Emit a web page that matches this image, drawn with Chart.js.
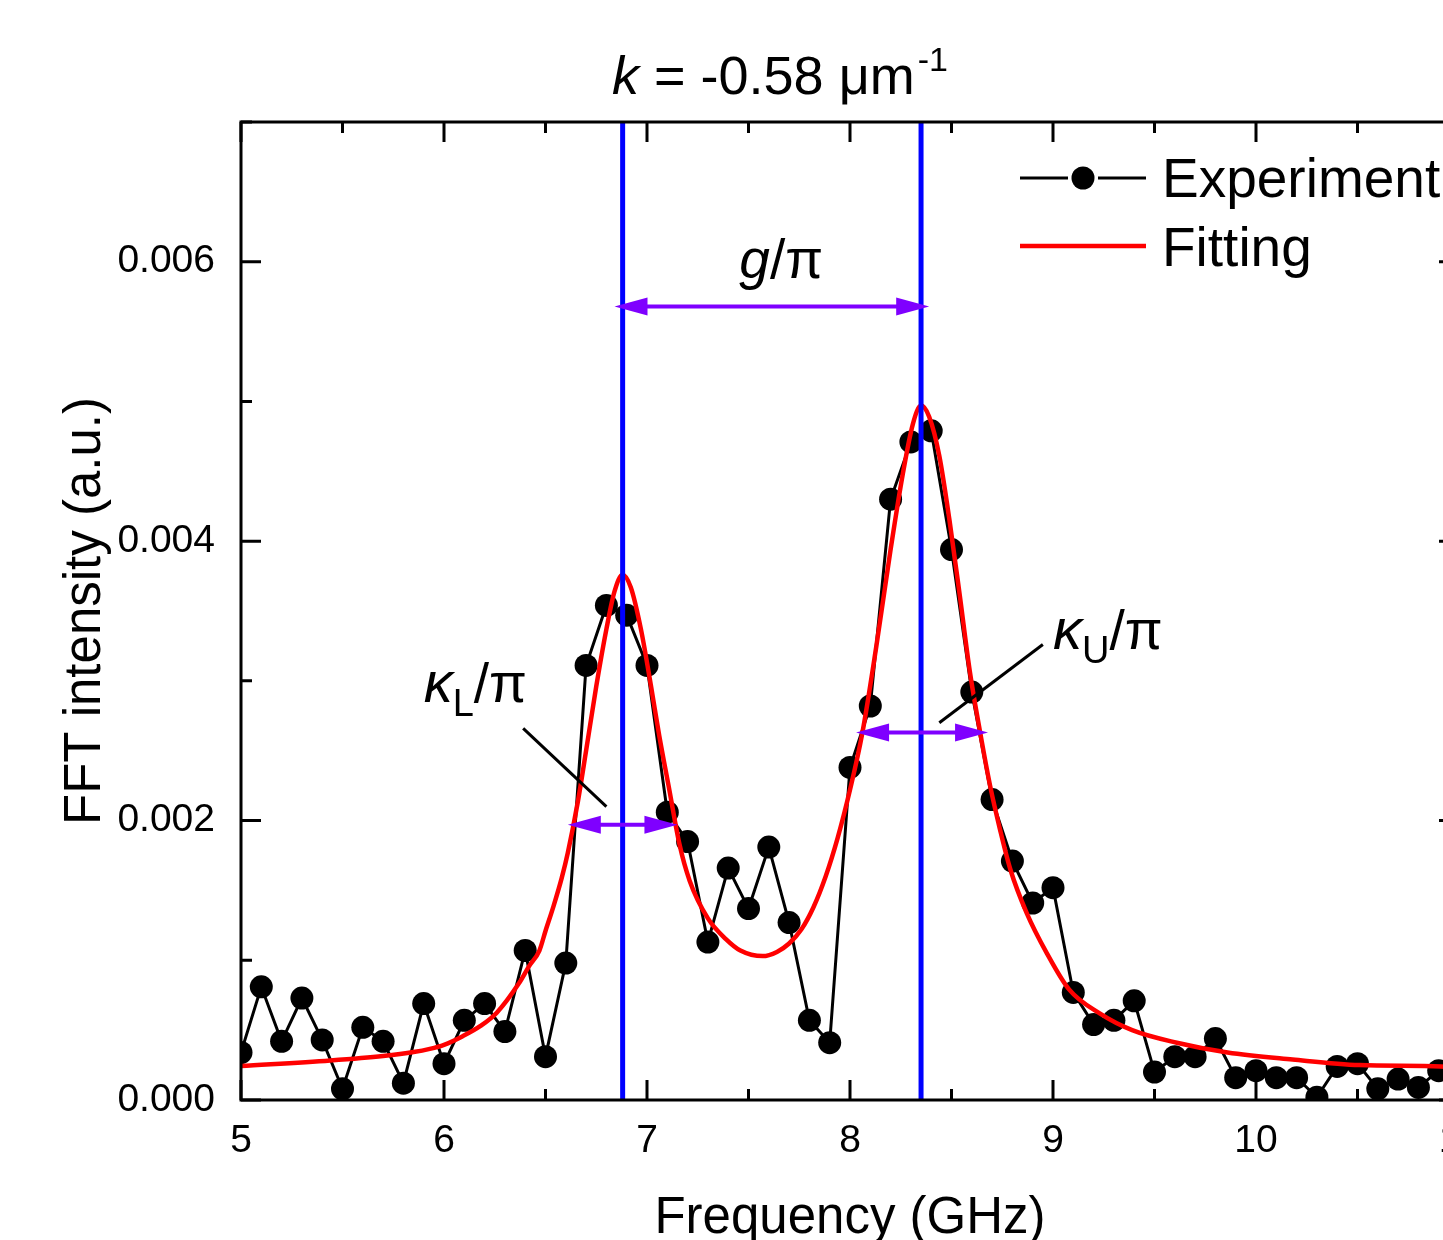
<!DOCTYPE html>
<html>
<head>
<meta charset="utf-8">
<script src="https://cdn.jsdelivr.net/npm/chart.js@4.4.0/dist/chart.umd.min.js"></script>
<style>
  html, body { margin: 0; padding: 0; background: #fff; overflow: hidden; }
  canvas { display: block; }
</style>
</head>
<body>
<canvas id="fftChart" width="1500" height="1240"></canvas>
<script>
const FONT = '"Liberation Sans", Arial, sans-serif';

// measured FFT spectrum, 0.1 GHz steps
const freqGHz = [
  5.0, 5.1, 5.2, 5.3, 5.4, 5.5, 5.6, 5.7, 5.8, 5.9,
  6.0, 6.1, 6.2, 6.3, 6.4, 6.5, 6.6, 6.7, 6.8, 6.9,
  7.0, 7.1, 7.2, 7.3, 7.4, 7.5, 7.6, 7.7, 7.8, 7.9,
  8.0, 8.1, 8.2, 8.3, 8.4, 8.5, 8.6, 8.7, 8.8, 8.9,
  9.0, 9.1, 9.2, 9.3, 9.4, 9.5, 9.6, 9.7, 9.8, 9.9,
  10.0, 10.1, 10.2, 10.3, 10.4, 10.5, 10.6, 10.7, 10.8, 10.9
];
const fftIntensity = [
  0.00034, 0.00081, 0.00042, 0.00073, 0.00043, 0.00008, 0.00052, 0.00042, 0.00012, 0.00069,
  0.00026, 0.00057, 0.00069, 0.00049, 0.00107, 0.00031, 0.00098, 0.00311, 0.00354, 0.00347,
  0.00311, 0.00206, 0.00185, 0.00113, 0.00166, 0.00137, 0.00181, 0.00127, 0.00057, 0.00041,
  0.00238, 0.00282, 0.00430, 0.00471, 0.00479, 0.00394, 0.00292, 0.00215, 0.00171, 0.00141,
  0.00152, 0.00077, 0.00054, 0.00057, 0.00071, 0.00020, 0.00031, 0.00031, 0.00044, 0.00016,
  0.00021, 0.00016, 0.00016, 0.00002, 0.00024, 0.00026, 0.00008, 0.00015, 0.00009, 0.00021
];

// two-peak fit curve
const fitFreqGHz = [
  5.0, 5.44, 5.70, 5.85, 5.93, 6.00, 6.09, 6.18, 6.26, 6.37,
  6.42, 6.47, 6.50, 6.54, 6.58, 6.61, 6.66, 6.70, 6.75, 6.80,
  6.84, 6.88, 6.92, 6.97, 7.02, 7.06, 7.11, 7.16, 7.21, 7.30,
  7.39, 7.46, 7.57, 7.64, 7.70, 7.76, 7.82, 7.88, 7.94, 8.00,
  8.06, 8.13, 8.20, 8.26, 8.31, 8.35, 8.39, 8.44, 8.49, 8.54,
  8.59, 8.64, 8.69, 8.74, 8.79, 8.87, 8.97, 9.08, 9.23, 9.39,
  9.61, 9.86, 10.18, 10.51, 10.91, 11.0
];
const fitIntensity = [
  0.000243, 0.000283, 0.000315, 0.000343, 0.000366, 0.000395, 0.000455, 0.00053, 0.000625, 0.000837,
  0.00096, 0.00107, 0.00121, 0.00139, 0.00159, 0.00177, 0.00214, 0.00250, 0.00296, 0.00337,
  0.00364, 0.00376, 0.00367, 0.00337, 0.00296, 0.00261, 0.00222, 0.00183, 0.00157, 0.00130,
  0.00115, 0.00107, 0.00103, 0.00106, 0.00112, 0.00122, 0.00138, 0.00160, 0.00188, 0.00222,
  0.00262, 0.00325, 0.00394, 0.00448, 0.00484, 0.00497, 0.00489, 0.00461, 0.00415, 0.00362,
  0.00307, 0.00264, 0.00225, 0.00193, 0.00165, 0.00134, 0.00105, 0.00079, 0.00062, 0.00050,
  0.00041, 0.00034, 0.00029, 0.00025, 0.00024, 0.00023
];

// peak positions and the g / kappa_L / kappa_U double arrows
const peakFreqGHz = [6.88, 8.35];
const arrowFrom = [6.84, 6.61, 8.03];
const arrowTo = [8.39, 7.15, 8.68];
const arrowLevel = [0.00568, 0.00197, 0.00263];

// leader lines from the kappa labels to their arrows: [x1, y1, x2, y2]
const leaderLines = [
  [6.39, 0.00266, 6.80, 0.00210],
  [8.95, 0.00326, 8.44, 0.00270]
];

const BLUE = '#0000ff';
const PURPLE = '#7f00ff';
const RED = '#ff0000';

function drawRuns(ctx, x, baseline, runs) {
  runs.forEach(r => {
    ctx.font = r.font;
    x += r.dx || 0;
    ctx.fillText(r.text, x, baseline + (r.dy || 0));
    x += ctx.measureText(r.text).width;
  });
}

function drawArrow(ctx, x1, x2, yy) {
  const head = 33, half = 9;
  ctx.strokeStyle = PURPLE;
  ctx.fillStyle = PURPLE;
  ctx.lineWidth = 4;
  ctx.beginPath();
  ctx.moveTo(x1 + head - 2, yy);
  ctx.lineTo(x2 - head + 2, yy);
  ctx.stroke();
  ctx.beginPath();
  ctx.moveTo(x1, yy);
  ctx.lineTo(x1 + head, yy - half);
  ctx.lineTo(x1 + head, yy + half);
  ctx.closePath();
  ctx.fill();
  ctx.beginPath();
  ctx.moveTo(x2, yy);
  ctx.lineTo(x2 - head, yy - half);
  ctx.lineTo(x2 - head, yy + half);
  ctx.closePath();
  ctx.fill();
}

const decorations = {
  id: 'decorations',
  afterDatasetsDraw(chart) {
    const { ctx, chartArea: a, scales: { x, y } } = chart;
    ctx.save();

    // vertical lines at the two peaks
    ctx.strokeStyle = BLUE;
    ctx.lineWidth = 5;
    peakFreqGHz.forEach(f => {
      const px = x.getPixelForValue(f);
      ctx.beginPath();
      ctx.moveTo(px, a.top);
      ctx.lineTo(px, a.bottom);
      ctx.stroke();
    });

    arrowFrom.forEach((f, i) => {
      drawArrow(ctx, x.getPixelForValue(f), x.getPixelForValue(arrowTo[i]), y.getPixelForValue(arrowLevel[i]));
    });

    ctx.strokeStyle = '#000';
    ctx.lineWidth = 3;
    leaderLines.forEach(l => {
      ctx.beginPath();
      ctx.moveTo(x.getPixelForValue(l[0]), y.getPixelForValue(l[1]));
      ctx.lineTo(x.getPixelForValue(l[2]), y.getPixelForValue(l[3]));
      ctx.stroke();
    });

    // annotation labels
    ctx.fillStyle = '#000';
    ctx.textAlign = 'left';
    ctx.textBaseline = 'alphabetic';
    drawRuns(ctx, x.getPixelForValue(7.455), y.getPixelForValue(0.00588), [
      { text: 'g', font: `italic 55px ${FONT}` },
      { text: '/π', font: `55px ${FONT}` }
    ]);
    drawRuns(ctx, x.getPixelForValue(5.90), y.getPixelForValue(0.00285), [
      { text: 'κ', font: `italic 58px ${FONT}` },
      { text: 'L', font: `38px ${FONT}`, dy: 14 },
      { text: '/π', font: `55px ${FONT}` }
    ]);
    drawRuns(ctx, x.getPixelForValue(9.0), y.getPixelForValue(0.00323), [
      { text: 'κ', font: `italic 58px ${FONT}` },
      { text: 'U', font: `38px ${FONT}`, dy: 14 },
      { text: '/π', font: `55px ${FONT}` }
    ]);

    // frame with inward ticks on all four sides
    ctx.strokeStyle = '#000';
    ctx.lineWidth = 3;
    ctx.strokeRect(a.left, a.top, a.width, a.height);
    x.ticks.forEach(t => {
      const px = x.getPixelForValue(t.value);
      const len = Math.abs(t.value - Math.round(t.value)) < 1e-6 ? 20 : 11;
      ctx.beginPath();
      ctx.moveTo(px, a.bottom);
      ctx.lineTo(px, a.bottom - len);
      ctx.moveTo(px, a.top);
      ctx.lineTo(px, a.top + len);
      ctx.stroke();
    });
    y.ticks.forEach(t => {
      const py = y.getPixelForValue(t.value);
      const len = Math.round(t.value * 1000) % 2 === 0 ? 20 : 11;
      ctx.beginPath();
      ctx.moveTo(a.left, py);
      ctx.lineTo(a.left + len, py);
      ctx.moveTo(a.right, py);
      ctx.lineTo(a.right - len, py);
      ctx.stroke();
    });

    // legend
    const lx = a.left + 779, ly1 = a.top + 56, ly2 = a.top + 124;
    ctx.strokeStyle = '#000';
    ctx.lineWidth = 3;
    ctx.beginPath();
    ctx.moveTo(lx, ly1);
    ctx.lineTo(lx + 48, ly1);
    ctx.moveTo(lx + 78, ly1);
    ctx.lineTo(lx + 126, ly1);
    ctx.stroke();
    ctx.fillStyle = '#000';
    ctx.beginPath();
    ctx.arc(lx + 63, ly1, 11.5, 0, Math.PI * 2);
    ctx.fill();
    ctx.strokeStyle = RED;
    ctx.lineWidth = 4.5;
    ctx.beginPath();
    ctx.moveTo(lx, ly2);
    ctx.lineTo(lx + 126, ly2);
    ctx.stroke();
    ctx.font = `55px ${FONT}`;
    ctx.fillText('Experiment', lx + 142, ly1 + 19);
    ctx.fillText('Fitting', lx + 142, ly2 + 20);

    // title
    drawRuns(ctx, a.left + 371, a.top - 28, [
      { text: 'k', font: `italic 54px ${FONT}` },
      { text: ' = -0.58 μm', font: `54px ${FONT}` },
      { text: '-1', font: `34px ${FONT}`, dy: -23, dx: 3 }
    ]);

    // axis titles
    ctx.font = `51px ${FONT}`;
    ctx.textAlign = 'center';
    ctx.fillText('Frequency (GHz)', (a.left + a.right) / 2, a.bottom + 133);
    ctx.save();
    ctx.translate(a.left - 141, (a.top + a.bottom) / 2);
    ctx.rotate(-Math.PI / 2);
    ctx.fillText('FFT intensity (a.u.)', 0, 0);
    ctx.restore();

    ctx.restore();
  }
};

new Chart(document.getElementById('fftChart'), {
  type: 'line',
  data: {
    datasets: [
      {
        label: 'Fitting',
        data: fitFreqGHz.map((f, i) => ({ x: f, y: fitIntensity[i] })),
        borderColor: RED,
        borderWidth: 4.5,
        pointRadius: 0,
        cubicInterpolationMode: 'monotone',
        fill: false,
        clip: 0,
        order: 0
      },
      {
        label: 'Experiment',
        data: freqGHz.map((f, i) => ({ x: f, y: fftIntensity[i] })),
        borderColor: '#000',
        borderWidth: 3,
        pointRadius: 11.5,
        pointBackgroundColor: '#000',
        pointBorderWidth: 0,
        tension: 0,
        fill: false,
        clip: 0,
        order: 1
      }
    ]
  },
  options: {
    responsive: false,
    animation: false,
    devicePixelRatio: 1,
    events: [],
    layout: { padding: { left: 0, top: 122, right: 41, bottom: 0 } },
    plugins: { legend: { display: false }, tooltip: { enabled: false } },
    scales: {
      x: {
        type: 'linear',
        min: 5,
        max: 11,
        grid: { display: false, drawTicks: false },
        border: { display: false },
        ticks: {
          stepSize: 0.5,
          autoSkip: false,
          maxRotation: 0,
          padding: 18,
          color: '#000',
          font: { family: FONT, size: 39 },
          callback: v => (Math.abs(v - Math.round(v)) < 1e-6 ? String(Math.round(v)) : '')
        },
        afterFit: s => { s.height = 140; }
      },
      y: {
        type: 'linear',
        min: 0,
        max: 0.007,
        grid: { display: false, drawTicks: false },
        border: { display: false },
        ticks: {
          stepSize: 0.001,
          autoSkip: false,
          padding: 26,
          color: '#000',
          font: { family: FONT, size: 39 },
          callback: v => (Math.round(v * 1000) % 2 === 0 ? v.toFixed(3) : '')
        },
        afterFit: s => { s.width = 241; }
      }
    }
  },
  plugins: [decorations]
});
</script>
</body>
</html>
